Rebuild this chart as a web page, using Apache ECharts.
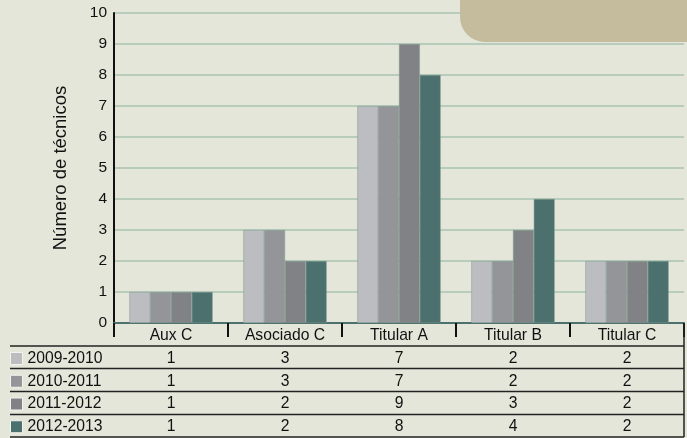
<!DOCTYPE html>
<html>
<head>
<meta charset="utf-8">
<script src="https://cdn.jsdelivr.net/npm/echarts@6/dist/echarts.min.js"></script>
<style>
html,body{margin:0;padding:0;background:#e5e6da;}
#c{width:687px;height:438px;}
</style>
</head>
<body>
<div id="c"></div>
<script>
const categories = ['Aux C', 'Asociado C', 'Titular A', 'Titular B', 'Titular C'];
const seriesNames = ['2009-2010', '2010-2011', '2011-2012', '2012-2013'];
const v2009 = [1, 3, 7, 2, 2];
const v2010 = [1, 3, 7, 2, 2];
const v2011 = [1, 2, 9, 3, 2];
const v2012 = [1, 2, 8, 4, 2];
const yTicks = [0, 1, 2, 3, 4, 5, 6, 7, 8, 9, 10];

const allValues = [v2009, v2010, v2011, v2012];
const colors = ['#bcbdc0', '#939598', '#808285', '#4b706d'];
const FONT = '"Liberation Sans", Arial, sans-serif';

const chart = echarts.init(document.getElementById('c'));

const gridLeft = 114, gridRight = 3, gridTop = 13, gridBottom = 115;
const rowYs = [346, 368.5, 391.5, 414.5, 437];

const graphics = [
  {type: 'rect', z: 10, shape: {x: 460, y: -40, width: 260, height: 82, r: 25}, style: {fill: '#c4bc9c'}},
  {type: 'line', z: 5, shape: {x1: 684, y1: 323, x2: 684, y2: 437}, style: {stroke: '#222', lineWidth: 1.5}}
];
rowYs.forEach(y => graphics.push({type: 'line', z: 5, shape: {x1: 10, y1: y, x2: 684, y2: y}, style: {stroke: '#222', lineWidth: 1.5}}));

chart.setOption({
  backgroundColor: '#e5e6da',
  animation: false,
  textStyle: {fontFamily: FONT},
  grid: {left: gridLeft, right: gridRight, top: gridTop, bottom: gridBottom, containLabel: false},
  legend: {
    orient: 'vertical', left: 10, top: 350.5, height: 100, padding: 0,
    itemWidth: 12, itemHeight: 12, itemGap: 6.75,
    icon: 'rect',
    data: seriesNames,
    textStyle: {fontFamily: FONT, fontSize: 15.7, color: '#111'},
    itemStyle: {borderColor: '#f2f2ee', borderWidth: 1}
  },
  xAxis: {
    type: 'category',
    data: categories,
    axisLine: {show: true, lineStyle: {color: '#4b706d', width: 2}},
    axisTick: {show: true, length: 14, lineStyle: {color: '#111', width: 2}},
    axisLabel: {
      margin: 1.5,
      interval: 0,
      formatter: function (val, idx) {
        const lines = [val].concat(allValues.map(a => String(a[idx])));
        return lines.map(l => '{c|' + l + '}').join('\n');
      },
      rich: {c: {fontFamily: FONT, fontSize: 15.7, lineHeight: 22.75, color: '#111'}}
    }
  },
  yAxis: {
    type: 'value',
    min: 0, max: 10, interval: 1,
    name: 'Número de técnicos',
    nameLocation: 'middle',
    nameGap: 44,
    nameTextStyle: {fontFamily: FONT, fontSize: 18.5, color: '#111'},
    axisLine: {show: true, lineStyle: {color: '#111', width: 2}},
    axisTick: {show: false},
    axisLabel: {
      margin: 7, fontSize: 15.5, color: '#111', fontFamily: FONT,
      formatter: v => yTicks.includes(v) ? String(v) : ''
    },
    splitLine: {show: true, lineStyle: {color: '#a9c3b0', width: 1.5}}
  },
  series: seriesNames.map((n, i) => ({
    name: n,
    type: 'bar',
    data: allValues[i],
    barGap: '0%',
    barCategoryGap: '27%',
    itemStyle: {color: colors[i], borderColor: '#7f9a8f', borderWidth: 0.5}
  })),
  graphic: graphics
});
</script>
</body>
</html>
